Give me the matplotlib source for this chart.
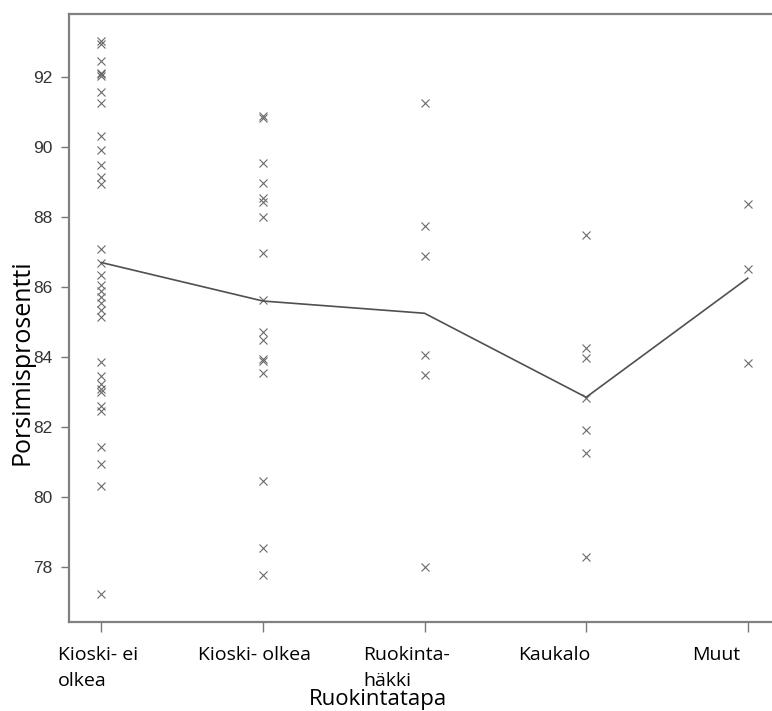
import matplotlib
matplotlib.use("Agg")
import matplotlib.pyplot as plt
import matplotlib.transforms as mtransforms

# ruokintatavat ja porsimisprosentit (luettu kuvasta)
categories = ["Kioski- ei\nolkea", "Kioski- olkea", "Ruokinta-\nhäkki", "Kaukalo", "Muut"]

kioski_ei_olkea = [93.04, 92.94, 92.47, 92.12, 92.08, 92.02, 91.58, 91.27, 90.31, 89.91,
                   89.49, 89.15, 88.94, 87.08, 86.68, 86.34, 86.06, 85.89, 85.72, 85.54,
                   85.34, 85.15, 83.87, 83.46, 83.22, 83.10, 83.0, 82.6, 82.45, 81.44,
                   80.94, 80.32, 77.22]
kioski_olkea = [90.9, 90.82, 89.53, 88.98, 88.55, 88.42, 88.01, 86.96, 85.63, 84.72,
                84.5, 83.93, 83.88, 83.53, 80.46, 78.55, 77.77]
ruokintahakki = [91.25, 87.75, 86.9, 84.05, 83.5, 78.0]
kaukalo = [87.49, 84.27, 83.96, 82.82, 81.91, 81.25, 78.29]
muut = [88.36, 86.51, 83.84]

groups = [kioski_ei_olkea, kioski_olkea, ruokintahakki, kaukalo, muut]
means = [86.7, 85.6, 85.25, 82.85, 86.25]

yticks = [78, 80, 82, 84, 86, 88, 90, 92]

fig = plt.figure(figsize=(7.72, 7.11), dpi=100)
ax = fig.add_axes([0.0894, 0.1252, 0.921, 0.8551])

for i, vals in enumerate(groups):
    ax.plot([i] * len(vals), vals, linestyle="none", marker="x", markersize=6,
            markeredgewidth=0.8, color="#6a6a6a")
ax.plot(range(len(means)), means, color="#505050", linewidth=1.2)

ax.set_xlim(-0.2, 4.2)
ax.set_ylim(76.43, 93.8)
ax.set_yticks(yticks)
ax.set_yticklabels([str(t) for t in yticks], fontfamily="Liberation Sans",
                   fontsize=12.5, color="#333333")
ax.set_xticks(range(len(categories)))
ax.set_xticklabels(categories, fontfamily="Open Sans", fontsize=14,
                   color="black", ha="left", linespacing=1.6)
ax.tick_params(axis="y", direction="out", length=6, width=1, color="#777777", pad=6)
ax.tick_params(axis="x", direction="out", length=7, width=1, color="#777777", pad=10)

# tekstit alkavat tikin vasemmalta puolelta kuten alkuperaisessa
offsets_px = [-43, -65, -61, -68, -56]
for lab, dx in zip(ax.get_xticklabels(), offsets_px):
    lab.set_transform(lab.get_transform() +
                      mtransforms.ScaledTranslation(dx / 100, 0, fig.dpi_scale_trans))

for s in ["left", "bottom", "top"]:
    ax.spines[s].set_color("#808080")
    ax.spines[s].set_linewidth(1.6)
ax.spines["right"].set_visible(False)

fig.text(378 / 772, 1 - 699 / 711, "Ruokintatapa", fontfamily="Open Sans",
         fontsize=16, ha="center", va="center")
fig.text(22 / 772, 1 - 362 / 711, "Porsimisprosentti", fontfamily="Open Sans",
         fontsize=18, rotation=90, ha="center", va="center")

fig.savefig("out.png", dpi=100)
